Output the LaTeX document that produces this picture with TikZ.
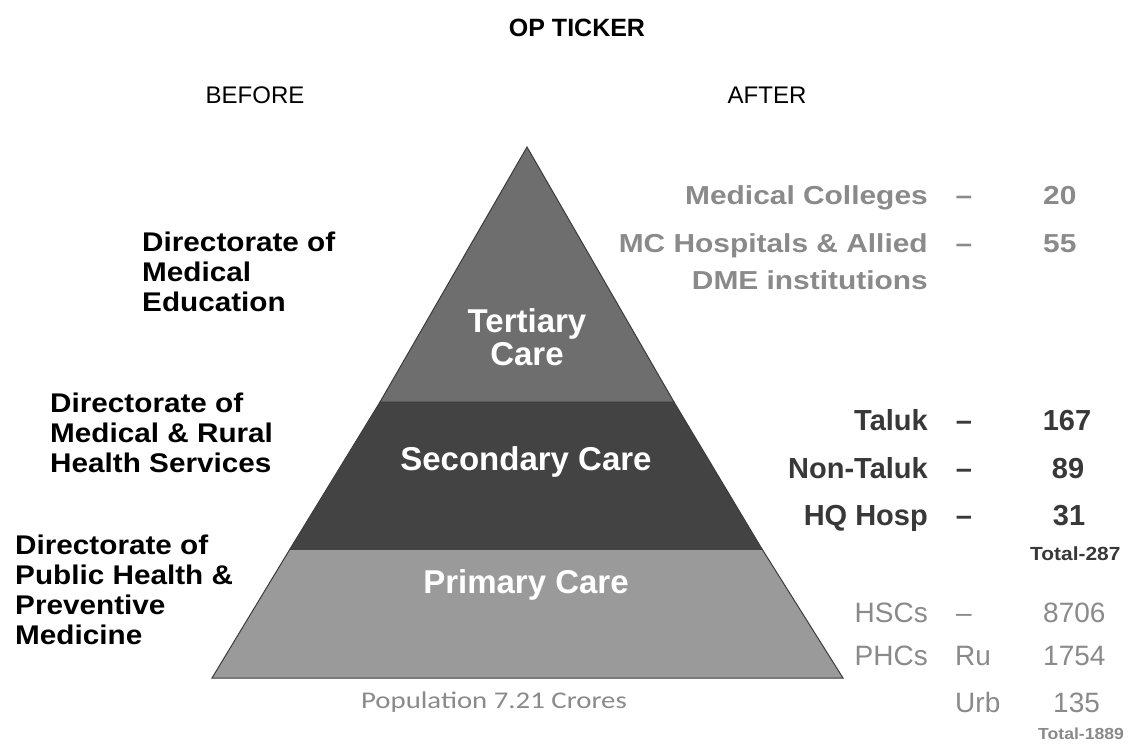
\documentclass[tikz,border=0pt]{standalone}
\usepackage{fontspec}
\setmainfont{Liberation Sans}
\newfontfamily\calfont{Carlito}

\definecolor{tertfill}{HTML}{6E6E6E}
\definecolor{secfill}{HTML}{434343}
\definecolor{primfill}{HTML}{9A9A9A}
\definecolor{edgegray}{HTML}{3C3C3C}
\definecolor{itemgray}{HTML}{8A8A8A}
\definecolor{itemdark}{HTML}{383838}

\tikzset{
  head/.style={inner sep=0pt, font=\fontsize{24}{28}\selectfont},
  dirlabel/.style={inner sep=0pt, anchor=west, align=left, xscale=1.1,
    font=\bfseries\fontsize{27}{30}\selectfont},
  carelabel/.style={inner sep=0pt, align=center, text=white,
    font=\bfseries\fontsize{33}{33}\selectfont},
  topitem/.style={inner sep=0pt, text=itemgray, xscale=1.15,
    font=\bfseries\fontsize{26}{30}\selectfont},
  miditem/.style={inner sep=0pt, text=itemdark,
    font=\bfseries\fontsize{29}{33}\selectfont},
  lowitem/.style={inner sep=0pt, text=itemgray,
    font=\fontsize{28}{32}\selectfont},
  total/.style={inner sep=0pt, anchor=base west, xscale=1.1},
  layer/.style={draw=edgegray, line width=1pt},
}

\begin{document}
\begin{tikzpicture}[x=1pt, y=-1pt]
	\path[fill=white, use as bounding box] (0,0) rectangle (1133,747);

	\node[head, font=\bfseries\fontsize{25}{28}\selectfont] (title) at (577,28) {OP TICKER};
	\node[head] (before) at (255,95) {BEFORE};
	\node[head] (after) at (767,95) {AFTER};

	% pyramid, bottom layer first
	\filldraw[layer, fill=primfill] (290,549) -- (762,549) -- (843,678) -- (212,678) -- cycle;
	\filldraw[layer, fill=secfill] (380,402) -- (674,402) -- (762,549) -- (290,549) -- cycle;
	\filldraw[layer, fill=tertfill] (527,147) -- (380,402) -- (674,402) -- cycle;

	\node[carelabel] (tertiary) at (527,337) {Tertiary\\Care};
	\node[carelabel] (secondary) at (526,462) {Secondary Care};
	\node[carelabel] (primary) at (526,585) {Primary Care};

	\node[inner sep=0pt, text=itemgray, xscale=1.2, font=\calfont\fontsize{24}{28}\selectfont]
	  (population) at (494,702) {Population 7.21 Crores};

	% directorates
	\node[dirlabel] (dme) at (142,272) {Directorate of\\Medical\\Education};
	\node[dirlabel] (dmrhs) at (50,433) {Directorate of\\Medical \& Rural\\Health Services};
	\node[dirlabel] (dph) at (15,590) {Directorate of\\Public Health \&\\Preventive\\Medicine};

	% tertiary counts (baselines)
	\node[topitem, anchor=base east] (colleges) at (928,204) {Medical Colleges};
	\node[topitem, anchor=base east] (hospitals) at (928,252) {MC Hospitals \& Allied};
	\node[topitem, anchor=base east] (institutions) at (928,289) {DME institutions};
	\node[topitem, anchor=base west] (collegesnum) at (1043,204) {20};
	\node[topitem, anchor=base west] (hospitalsnum) at (1043,252) {55};
	\foreach \y/\n in {204/a,252/b}
	  {
		\node[topitem, anchor=base] (dash\n) at (964,\y) {–};
	  }

	% secondary counts
	\node[miditem, anchor=base east] (taluk) at (928,430) {Taluk};
	\node[miditem, anchor=base east] (nontaluk) at (928,478) {Non-Taluk};
	\node[miditem, anchor=base east] (hq) at (928,525) {HQ Hosp};
	\node[miditem, anchor=base] (taluknum) at (1067,430) {167};
	\node[miditem, anchor=base] (nontaluknum) at (1068,478) {89};
	\node[miditem, anchor=base] (hqnum) at (1069,525) {31};
	\foreach \y/\n in {430/c,478/d,525/e}
	  {
		\node[miditem, anchor=base] (dash\n) at (964,\y) {–};
	  }
	\node[total, text=itemdark, font=\bfseries\fontsize{19}{22}\selectfont] (sectotal) at (1030,560) {Total-287};

	% primary counts
	\node[lowitem, anchor=base east] (hsc) at (928,622) {HSCs};
	\node[lowitem, anchor=base east] (phc) at (928,665) {PHCs};
	\node[lowitem, anchor=base] (dashf) at (964,622) {–};
	\node[lowitem, anchor=base west] (rural) at (955,665) {Ru};
	\node[lowitem, anchor=base west] (urban) at (955,712) {Urb};
	\node[lowitem, anchor=base west] (hscnum) at (1043,622) {8706};
	\node[lowitem, anchor=base west] (ruralnum) at (1043,665) {1754};
	\node[lowitem, anchor=base west] (urbannum) at (1053,712) {135};
	\node[total, text=itemgray, font=\bfseries\fontsize{16}{19}\selectfont] (primtotal) at (1038,739) {Total-1889};
\end{tikzpicture}
\end{document}
